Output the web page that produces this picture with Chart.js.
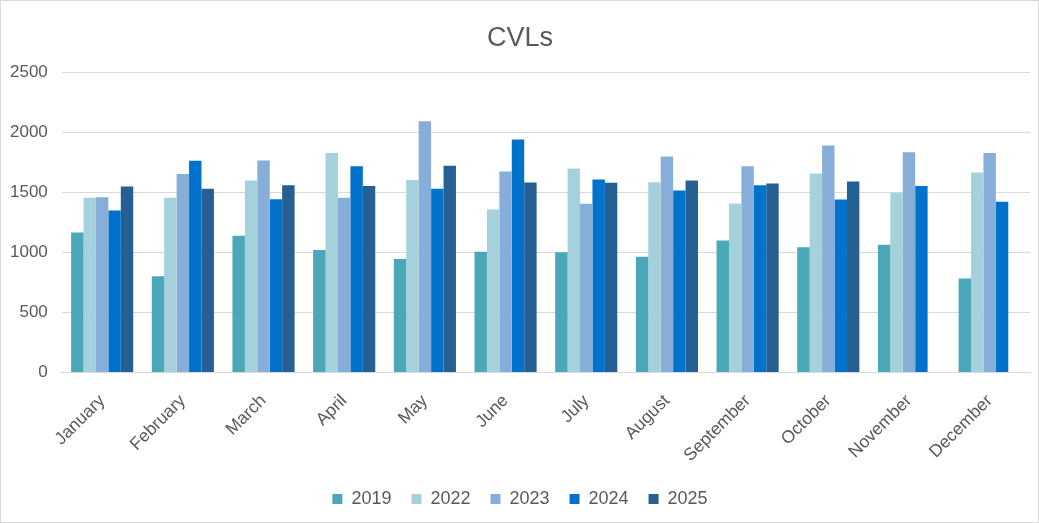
<!DOCTYPE html>
<html>
<head>
<meta charset="utf-8">
<script src="https://cdn.jsdelivr.net/npm/chart.js@4"></script>
<style>
    html, body { margin: 0; padding: 0; background: #fff; }
    #wrap {
        position: relative;
        width: 1037px;
        height: 521px;
        border: 1px solid #d9d9d9;
    }
</style>
</head>
<body>
<div id="wrap"><canvas id="myChart"></canvas></div>
<script>
const months = ['January', 'February', 'March', 'April', 'May', 'June',
    'July', 'August', 'September', 'October', 'November', 'December'];
const years = ['2019', '2022', '2023', '2024', '2025'];
const cvl2019 = [1167, 803, 1139, 1022, 947, 1006, 1003, 964, 1100, 1044, 1064, 783];
const cvl2022 = [1456, 1456, 1600, 1828, 1603, 1358, 1700, 1586, 1408, 1658, 1497, 1667];
const cvl2023 = [1461, 1653, 1767, 1456, 2094, 1675, 1406, 1800, 1719, 1892, 1836, 1828];
const cvl2024 = [1350, 1764, 1444, 1719, 1531, 1942, 1608, 1517, 1561, 1442, 1553, 1422];
const cvl2025 = [1550, 1531, 1561, 1553, 1722, 1583, 1581, 1600, 1575, 1592, null, null];
const yTicks = [0, 500, 1000, 1500, 2000, 2500];

const seriesData = [cvl2019, cvl2022, cvl2023, cvl2024, cvl2025];
const colors = ['#4BA8B8', '#A5D1DC', '#86AED9', '#0072CC', '#265F91'];

const textColor = '#595959';
const fontFamily = '"Liberation Sans", Arial, sans-serif';

const ctx = document.getElementById('myChart').getContext('2d');
new Chart(ctx, {
    type: 'bar',
    data: {
        labels: months,
        datasets: years.map((y, i) => ({
            label: y,
            data: seriesData[i],
            backgroundColor: colors[i],
            borderWidth: 0,
            barPercentage: 1,
            categoryPercentage: 0.77
        }))
    },
    options: {
        responsive: true,
        maintainAspectRatio: false,
        animation: false,
        layout: { padding: { left: 9, right: 8, top: 17, bottom: 4 } },
        plugins: {
            title: {
                display: true,
                text: 'CVLs',
                color: textColor,
                font: { family: fontFamily, size: 27, weight: 'normal' },
                padding: { top: 4, bottom: 18 }
            },
            legend: {
                position: 'bottom',
                labels: {
                    color: textColor,
                    font: { family: fontFamily, size: 18 },
                    boxWidth: 10,
                    boxHeight: 10,
                    padding: 20
                }
            },
            tooltip: { enabled: false }
        },
        scales: {
            x: {
                grid: { display: false },
                border: { color: '#d9d9d9' },
                ticks: {
                    color: textColor,
                    font: { family: fontFamily, size: 17.5 },
                    maxRotation: 45,
                    minRotation: 45,
                    padding: 10
                },
                afterFit: (scale) => {
                    scale.paddingLeft = 0;
                    scale.height -= 6;
                }
            },
            y: {
                min: yTicks[0],
                max: yTicks[yTicks.length - 1],
                afterBuildTicks: (axis) => {
                    axis.ticks = yTicks.map(v => ({ value: v }));
                },
                afterFit: (scale) => {
                    // drop the doubled tick padding on the outer side
                    scale.width -= 14;
                },
                grid: { color: '#d9d9d9', drawTicks: false },
                border: { display: false },
                ticks: {
                    color: textColor,
                    font: { family: fontFamily, size: 17 },
                    padding: 14,
                    callback: (v) => String(v)
                }
            }
        }
    }
});
</script>
</body>
</html>
